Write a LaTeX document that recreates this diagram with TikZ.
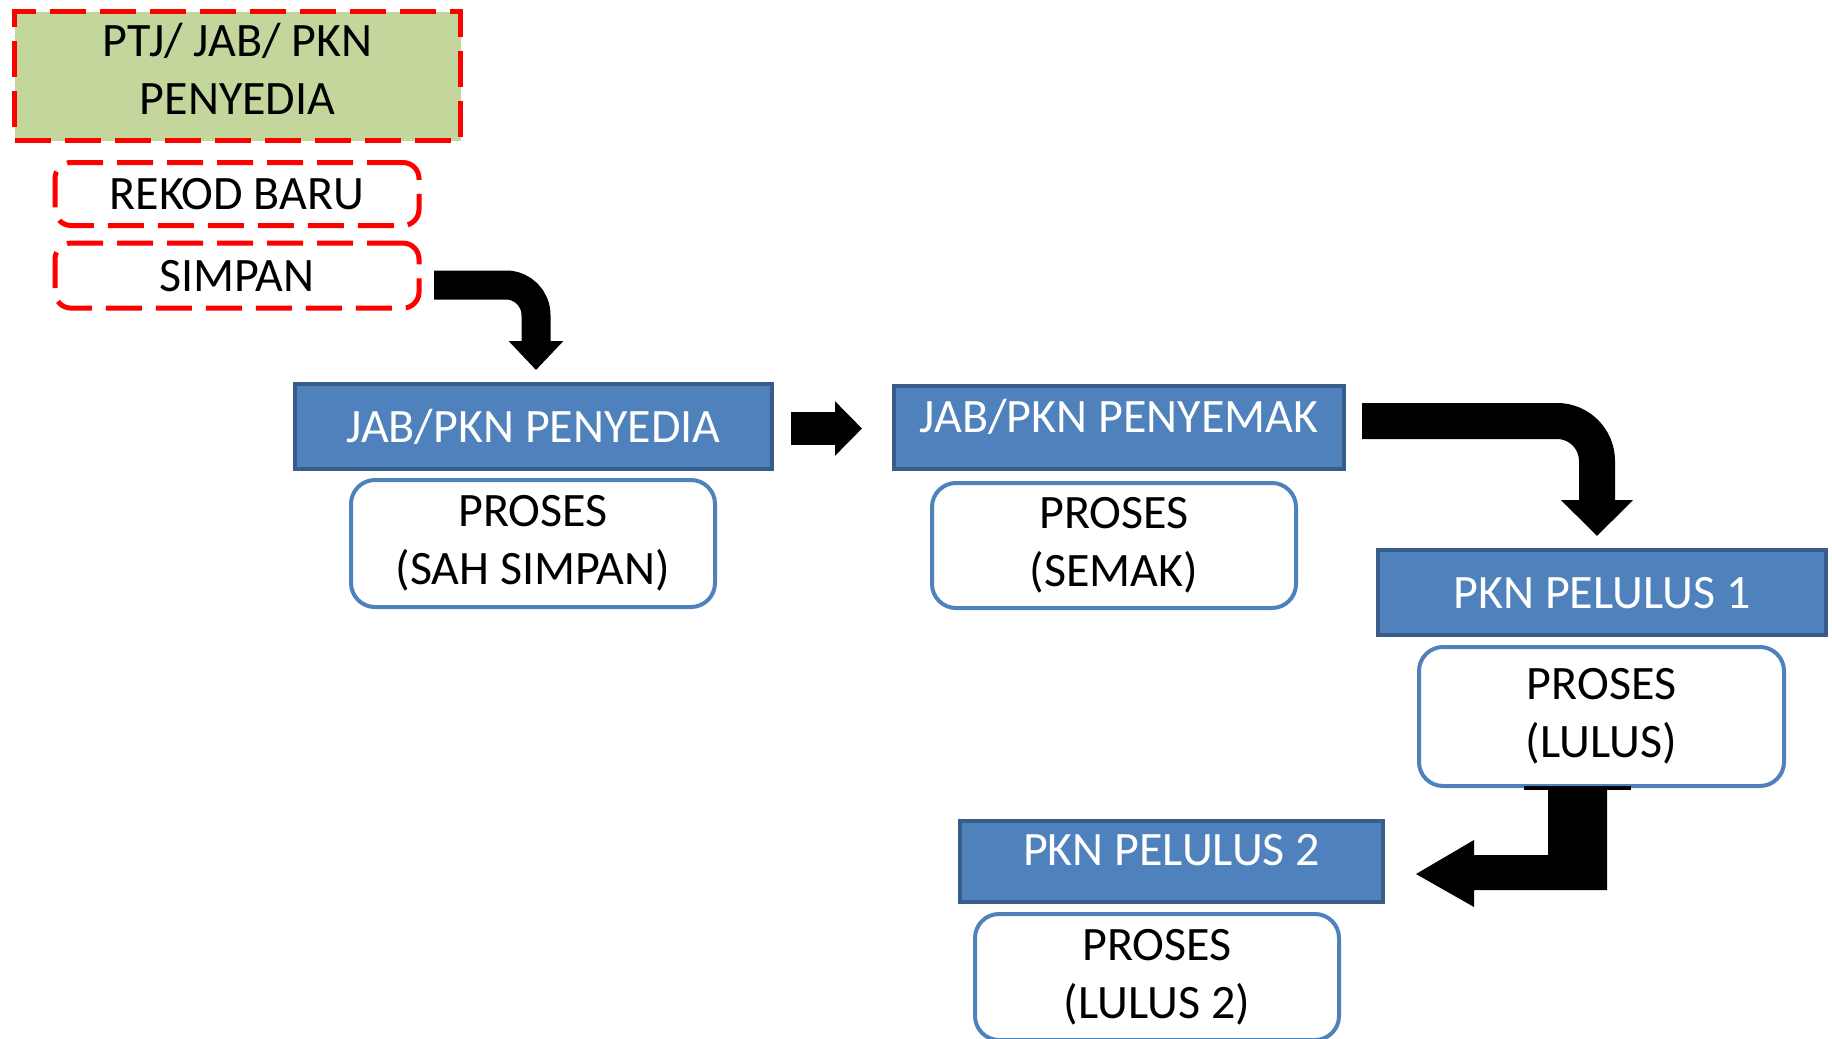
\documentclass[tikz,border=0pt]{standalone}
\usepackage{fontspec}
\setmainfont{Carlito}
\usetikzlibrary{arrows.meta,calc}
\definecolor{hdrfill}{HTML}{4F81BD}
\definecolor{hdrline}{HTML}{385D8A}
\definecolor{procline}{HTML}{4F81BD}
\definecolor{greenfill}{HTML}{C3D69B}
\definecolor{redline}{HTML}{FF0000}
\tikzset{
  bigfont/.style={font=\fontsize{48pt}{58pt}\selectfont},
  hdrbox/.style={bigfont, draw=hdrline, line width=4pt, fill=hdrfill, text=white, inner sep=0pt, text height=31pt},
  procbox/.style={bigfont, draw=procline, line width=4pt, fill=white, rounded corners=24pt, align=center, inner sep=0pt},
  redbox/.style={bigfont, draw=redline, line width=5pt, dash pattern=on 36pt off 14pt, inner sep=0pt},
  blkarrow/.style={draw=black, line cap=butt}
}
\begin{document}
\begin{tikzpicture}[x=1pt,y=-1pt]
\useasboundingbox (0,0) rectangle (1832,1039);
% top left dashed boxes
\node[redbox, fill=greenfill, minimum width=446pt, minimum height=129pt] (ptj) at (237.5,76) {};
\node[bigfont, align=center, inner sep=0pt] (ptjtext) at (237.5,69) {PTJ/ JAB/ PKN\\PENYEDIA};
\node[redbox, fill=white, rounded corners=16pt, minimum width=364pt, minimum height=63pt, text height=31pt, text depth=0pt] (rekod) at (237,194) {REKOD BARU};
\node[redbox, fill=white, rounded corners=16pt, minimum width=364pt, minimum height=65pt, text height=31pt, text depth=0pt] (simpan) at (237,275.6) {SIMPAN};
% headers
\node[hdrbox, minimum width=477pt, minimum height=85pt, text depth=0pt] (penyedia) at (533.5,426.5) {JAB/PKN PENYEDIA};
\node[hdrbox, minimum width=450pt, minimum height=83pt, text depth=22pt] (penyemak) at (1119,427.5) {JAB/PKN PENYEMAK};
\node[hdrbox, minimum width=448pt, minimum height=85pt, text depth=0pt] (pelulus1) at (1602,592.5) {PKN PELULUS 1};
\node[hdrbox, minimum width=423pt, minimum height=81pt, text depth=24pt] (pelulus2) at (1171.5,861.5) {PKN PELULUS 2};
% process boxes
\node[procbox, minimum width=364pt, minimum height=127pt] (proses1) at (533,543.5) {PROSES\\(SAH SIMPAN)};
\node[procbox, minimum width=364pt, minimum height=125pt] (proses2) at (1114,545.5) {PROSES\\(SEMAK)};
\node[procbox, minimum width=365pt, minimum height=139pt] (proses3) at (1601.5,716.5) {PROSES\\(LULUS)};
\node[procbox, minimum width=364pt, minimum height=126pt] (proses4) at (1157,977) {PROSES\\(LULUS 2)};
% connector end points
\coordinate (a1s) at (434,285);
\coordinate (a1e) at (536,370);
\coordinate (a2s) at (791,428.5);
\coordinate (a2e) at (862,428.5);
\coordinate (a3s) at (1362,421);
\coordinate (a3e) at (1597,536);
\coordinate (a4s) at (1548,790);
% arrows
\draw[blkarrow, line width=29pt, rounded corners=30pt, -{Triangle[width=53pt,length=29pt]}] (a1s) -- (a1s -| a1e) -- (a1e);
\draw[blkarrow, line width=33pt, -{Triangle[width=53pt,length=27pt]}] (a2s) -- (a2e);
\draw[blkarrow, line width=36pt, rounded corners=40pt, -{Triangle[width=70pt,length=36pt]}] (a3s) -- (a3s -| a3e) -- (a3e);
\fill[black] (a4s) -- ++(59,0) -- ++(0,100) -- ++(-133,0) -- ++(0,17) -- ++(-58,-33) -- ++(58,-34) -- ++(0,15) -- ++(74,0) -- cycle;
\fill[black] ($(a4s)+(-24,-4)$) rectangle ++(107,4);
\end{tikzpicture}
\end{document}
